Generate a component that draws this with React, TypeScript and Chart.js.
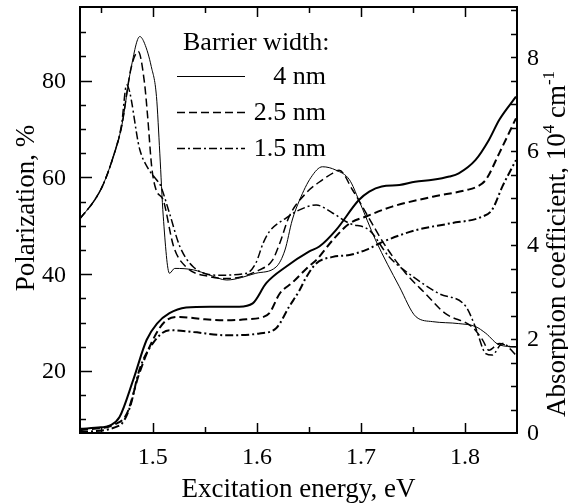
import React, { useEffect, useRef } from "react";
import { Chart, registerables } from "chart.js";
Chart.register(...registerables);

// ---------- Data ----------
// Polarization (left axis, %)
const pol4E = [1.43, 1.444, 1.452, 1.462, 1.47, 1.479, 1.4875, 1.492, 1.4985, 1.5035, 1.5067, 1.51, 1.516, 1.521, 1.539, 1.555, 1.571, 1.585, 1.599, 1.6185, 1.627, 1.634, 1.641, 1.652, 1.663, 1.676, 1.689, 1.698, 1.714, 1.737, 1.753, 1.769, 1.794, 1.81, 1.82, 1.833, 1.849];
const pol4 = [51.5, 55.3, 58.4, 64.3, 70.5, 82.5, 89.1, 87.7, 82.9, 76.7, 65, 52, 40.2, 41.2, 40.9, 39.8, 38.8, 39.3, 40.2, 41.5, 45, 51.2, 55.3, 60, 62.2, 61.5, 59.5, 55.3, 47.1, 37.4, 31.2, 30.2, 29.8, 29.2, 27.8, 25.4, 25];

const pol25E = [1.43, 1.444, 1.452, 1.462, 1.47, 1.479, 1.486, 1.492, 1.495, 1.499, 1.503, 1.51, 1.52, 1.532, 1.555, 1.571, 1.6025, 1.615, 1.622, 1.631, 1.647, 1.663, 1.673, 1.679, 1.692, 1.705, 1.724, 1.743, 1.762, 1.781, 1.807, 1.817, 1.823, 1.833, 1.845, 1.849];
const pol25 = [51.5, 55.3, 58.4, 64.3, 70.5, 82.5, 86, 79.5, 72.6, 62, 57.5, 55.3, 45.7, 41.5, 39.5, 39.1, 40.9, 42.9, 46.4, 51.9, 56.7, 59.5, 60.9, 61.5, 57.4, 52.6, 45.7, 40.2, 36, 31.9, 29.1, 26.4, 24.3, 25.7, 25, 25];

const pol15E = [1.43, 1.444, 1.452, 1.462, 1.47, 1.4748, 1.4875, 1.495, 1.5035, 1.507, 1.516, 1.526, 1.539, 1.564, 1.59, 1.599, 1.606, 1.612, 1.628, 1.641, 1.657, 1.673, 1.689, 1.708, 1.727, 1.75, 1.775, 1.801, 1.81, 1.82, 1.826, 1.836, 1.849];
const pol15 = [51.5, 55.3, 58.4, 64.3, 71, 79.1, 65.7, 62, 59.5, 58.5, 52.6, 45.7, 41.5, 39.8, 40.2, 42.3, 46.4, 48.8, 51.6, 53.3, 54.3, 52.6, 50.5, 49.1, 43.6, 39.5, 36, 33.3, 29.1, 23.6, 23.3, 25.7, 23.3];

// Absorption coefficient (right axis, 10^4 cm^-1)
const abs4E = [1.43, 1.45, 1.459, 1.468, 1.481, 1.494, 1.504, 1.516, 1.532, 1.555, 1.583, 1.596, 1.609, 1.628, 1.65, 1.66, 1.676, 1.698, 1.708, 1.72, 1.737, 1.752, 1.769, 1.785, 1.794, 1.81, 1.823, 1.833, 1.849];
const abs4 = [0.09, 0.12, 0.16, 0.34, 1.12, 1.98, 2.33, 2.55, 2.67, 2.69, 2.69, 2.76, 3.19, 3.54, 3.86, 3.97, 4.32, 4.96, 5.14, 5.25, 5.28, 5.35, 5.39, 5.46, 5.53, 5.81, 6.24, 6.67, 7.16];

const abs25E = [1.43, 1.465, 1.475, 1.487, 1.5, 1.513, 1.526, 1.55, 1.571, 1.59, 1.606, 1.612, 1.622, 1.634, 1.65, 1.657, 1.673, 1.689, 1.705, 1.73, 1.769, 1.801, 1.812, 1.82, 1.833, 1.849];
const abs25 = [0.06, 0.2, 0.41, 1.27, 1.98, 2.4, 2.47, 2.42, 2.4, 2.42, 2.47, 2.55, 2.97, 3.2, 3.55, 3.68, 4.11, 4.46, 4.61, 4.82, 5.03, 5.17, 5.25, 5.39, 5.96, 6.7];

const abs15E = [1.43, 1.468, 1.478, 1.487, 1.5, 1.516, 1.539, 1.571, 1.6025, 1.6185, 1.631, 1.641, 1.647, 1.657, 1.673, 1.689, 1.705, 1.721, 1.753, 1.785, 1.817, 1.826, 1.836, 1.849];
const abs15 = [0.02, 0.16, 0.55, 1.34, 1.91, 2.19, 2.15, 2.08, 2.12, 2.23, 2.69, 3.04, 3.3, 3.61, 3.75, 3.79, 3.9, 4.07, 4.32, 4.46, 4.61, 4.75, 5.25, 5.81];

// Axes & labels
const xMajorTicks = [1.5, 1.6, 1.7, 1.8];
const xTickLabels = ["1.5", "1.6", "1.7", "1.8"];
const xMinorTicks = [1.45, 1.55, 1.65, 1.75];
const leftMajorTicks = [20, 40, 60, 80];
const leftTickLabels = ["20", "40", "60", "80"];
const leftMinorTicks = [10, 15, 25, 30, 35, 45, 50, 55, 65, 70, 75, 85, 90];
const rightTickValues = [0.5, 1, 1.5, 2, 2.5, 3, 3.5, 4, 4.5, 5, 5.5, 6, 6.5, 7, 7.5, 8, 8.5, 9];
const rightLabelValues = [0, 2, 4, 6, 8];
const rightTickLabels = ["0", "2", "4", "6", "8"];
const legendTitle = "Barrier width:";
const legendLabels = ["4 nm", "2.5 nm", "1.5 nm"];
const xTitle = "Excitation energy, eV";
const leftTitle = "Polarization, %";
const rightTitleMain = "Absorption coefficient, 10";
const rightTitleSup1 = "4";
const rightTitleUnit = " cm";
const rightTitleSup2 = "-1";

const FONT = "'Liberation Serif', 'Times New Roman', serif";
const DASH = [8, 4];
const DASHDOT = [8, 3, 2, 3];

const pts = (xs: number[], ys: number[]) => xs.map((x, i) => ({ x, y: ys[i] }));

const overlay = {
  id: "overlay",
  afterDraw(chart: any) {
    const ctx: CanvasRenderingContext2D = chart.ctx;
    const { left, right, top, bottom } = chart.chartArea;
    const sx = chart.scales.x;
    const sy = chart.scales.y;
    const sy2 = chart.scales.y2;
    ctx.save();
    ctx.strokeStyle = "#000";
    ctx.fillStyle = "#000";
    // frame
    ctx.lineWidth = 2;
    ctx.strokeRect(left, top, right - left, bottom - top);
    ctx.lineWidth = 1.5;
    // x ticks (bottom & top, inward)
    const xt = (v: number, len: number) => {
      const px = Math.round(sx.getPixelForValue(v)) + 0.5;
      ctx.beginPath();
      ctx.moveTo(px, bottom);
      ctx.lineTo(px, bottom - len);
      ctx.moveTo(px, top);
      ctx.lineTo(px, top + len);
      ctx.stroke();
    };
    xMajorTicks.forEach((v) => xt(v, 10));
    xMinorTicks.forEach((v) => xt(v, 6));
    // left ticks
    const lt = (v: number, len: number) => {
      const py = Math.round(sy.getPixelForValue(v)) + 0.5;
      ctx.beginPath();
      ctx.moveTo(left, py);
      ctx.lineTo(left + len, py);
      ctx.stroke();
    };
    leftMajorTicks.forEach((v) => lt(v, 12));
    leftMinorTicks.forEach((v) => lt(v, 6));
    // right ticks
    rightTickValues.forEach((v) => {
      const py = Math.round(sy2.getPixelForValue(v)) + 0.5;
      ctx.beginPath();
      ctx.moveTo(right, py);
      ctx.lineTo(right - 6, py);
      ctx.stroke();
    });
    // tick labels
    ctx.font = `24px ${FONT}`;
    ctx.textAlign = "center";
    ctx.textBaseline = "alphabetic";
    xMajorTicks.forEach((v, i) => ctx.fillText(xTickLabels[i], sx.getPixelForValue(v), 464));
    ctx.textAlign = "right";
    ctx.textBaseline = "middle";
    leftMajorTicks.forEach((v, i) => ctx.fillText(leftTickLabels[i], 66, sy.getPixelForValue(v) + 1));
    ctx.textAlign = "left";
    rightLabelValues.forEach((v, i) => ctx.fillText(rightTickLabels[i], 527, sy2.getPixelForValue(v) + 1));
    // x title
    ctx.font = `27px ${FONT}`;
    ctx.textAlign = "center";
    ctx.textBaseline = "alphabetic";
    ctx.fillText(xTitle, (left + right) / 2, 497);
    // left title
    ctx.save();
    ctx.translate(34, 208);
    ctx.rotate(-Math.PI / 2);
    ctx.fillText(leftTitle, 0, 0);
    ctx.restore();
    // right title with superscripts
    ctx.save();
    ctx.translate(565, 244);
    ctx.rotate(-Math.PI / 2);
    ctx.textAlign = "left";
    const big = `27px ${FONT}`;
    const small = `17px ${FONT}`;
    ctx.font = big;
    const w1 = ctx.measureText(rightTitleMain).width;
    const w3 = ctx.measureText(rightTitleUnit).width;
    ctx.font = small;
    const w2 = ctx.measureText(rightTitleSup1).width;
    const w4 = ctx.measureText(rightTitleSup2).width;
    let cx = -(w1 + w2 + w3 + w4) / 2;
    ctx.font = big;
    ctx.fillText(rightTitleMain, cx, 0);
    cx += w1;
    ctx.font = small;
    ctx.fillText(rightTitleSup1, cx, -11);
    cx += w2;
    ctx.font = big;
    ctx.fillText(rightTitleUnit, cx, 0);
    cx += w3;
    ctx.font = small;
    ctx.fillText(rightTitleSup2, cx, -11);
    ctx.restore();
    // legend
    ctx.font = `26px ${FONT}`;
    ctx.textAlign = "left";
    ctx.textBaseline = "alphabetic";
    ctx.fillText(legendTitle, 183, 50);
    const lys = [76, 112, 148];
    const lws = [1, 1.5, 1.5];
    const dashes = [[], DASH, DASHDOT];
    const lbase = [83.5, 120, 156];
    lys.forEach((y, i) => {
      ctx.save();
      ctx.lineWidth = lws[i];
      ctx.setLineDash(dashes[i]);
      ctx.beginPath();
      ctx.moveTo(177, y + 0.5);
      ctx.lineTo(245, y + 0.5);
      ctx.stroke();
      ctx.restore();
      ctx.textAlign = "right";
      ctx.fillText(legendLabels[i], 326, lbase[i]);
    });
    ctx.restore();
  },
};

export default function App() {
  const ref = useRef<HTMLCanvasElement | null>(null);
  useEffect(() => {
    if (!ref.current) return;
    const mk = (label: string, xs: number[], ys: number[], axis: string, width: number, dash: number[]) => ({
      label,
      data: pts(xs, ys),
      yAxisID: axis,
      borderColor: "#000",
      backgroundColor: "#000",
      borderWidth: width,
      borderDash: dash,
      fill: false,
      pointRadius: 0,
      cubicInterpolationMode: "monotone" as const,
    });
    const chart = new Chart(ref.current, {
      type: "line",
      data: {
        datasets: [
          mk("P 4 nm", pol4E, pol4, "y", 1, []),
          mk("P 2.5 nm", pol25E, pol25, "y", 1.5, DASH),
          mk("P 1.5 nm", pol15E, pol15, "y", 1.5, DASHDOT),
          mk("A 4 nm", abs4E, abs4, "y2", 2, []),
          mk("A 2.5 nm", abs25E, abs25, "y2", 2, DASH),
          mk("A 1.5 nm", abs15E, abs15, "y2", 2, DASHDOT),
        ],
      },
      options: {
        responsive: false,
        animation: false,
        layout: { padding: { left: 80, right: 51, top: 7, bottom: 71 } },
        plugins: { legend: { display: false }, tooltip: { enabled: false } },
        scales: {
          x: { type: "linear", min: 1.43, max: 1.85, display: false },
          y: { type: "linear", min: 7.2, max: 95.2, display: false },
          y2: { type: "linear", position: "right", min: 0, max: 9.07, display: false },
        },
      },
      plugins: [overlay],
    } as any);
    return () => chart.destroy();
  }, []);
  return (
    <div style={{ position: "absolute", left: 0, top: 0, width: 568, height: 504, background: "#fff" }}>
      <canvas ref={ref} width={568} height={504} style={{ display: "block", width: 568, height: 504 }} />
    </div>
  );
}
